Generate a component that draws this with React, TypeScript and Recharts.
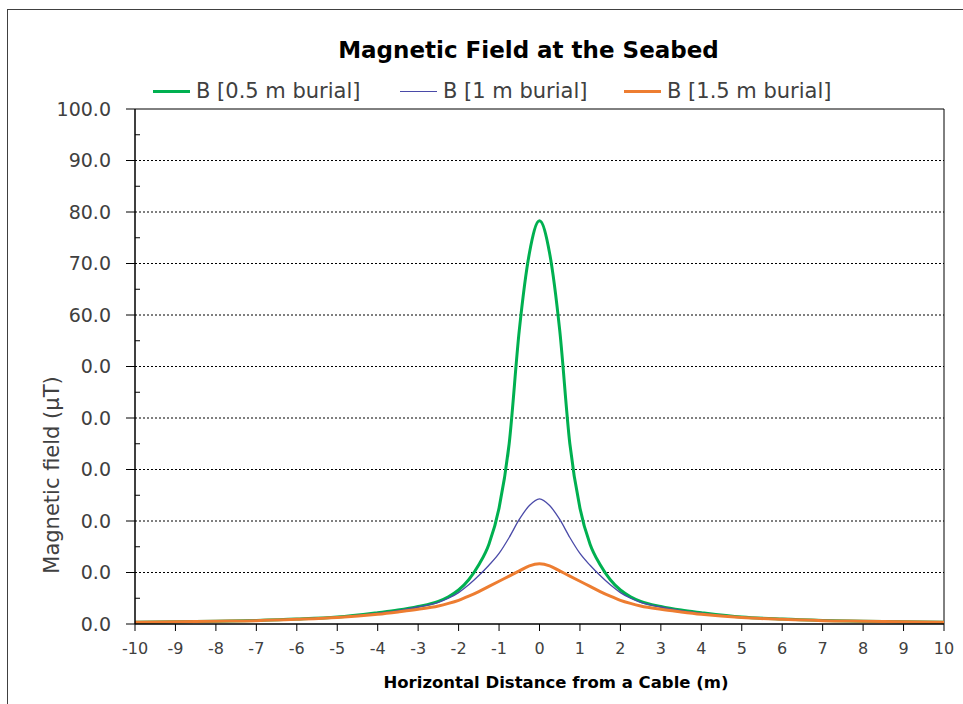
import { LineChart, Line, XAxis, YAxis, ReferenceLine } from "recharts";

// distance from the cable (m)
const X_VALUES = [
  -10, -9, -8, -7, -6, -5, -4, -3.5, -3,
  -2.5, -2.25, -2, -1.75, -1.5, -1.25, -1, -0.75, -0.5, -0.25, 0,
  0.25, 0.5, 0.75, 1, 1.25, 1.5, 1.75, 2, 2.25, 2.5,
  3, 3.5, 4, 5, 6, 7, 8, 9, 10,
];

// magnetic field (uT) for each burial depth
const B_05 = [
  0.35, 0.45, 0.55, 0.7, 0.95, 1.35, 2.2, 2.7, 3.4,
  4.4, 5.3, 6.6, 8.6, 11.5, 15.5, 22.5, 35, 57, 72, 78.3,
  72, 57, 35, 22.5, 15.5, 11.5, 8.6, 6.6, 5.3, 4.4,
  3.4, 2.7, 2.2, 1.35, 0.95, 0.7, 0.55, 0.45, 0.35,
];
const B_10 = [
  0.35, 0.45, 0.55, 0.7, 0.95, 1.3, 2.1, 2.6, 3.3,
  4.2, 5.0, 6.1, 7.6, 9.4, 11.4, 13.7, 16.8, 20.3, 23.0, 24.3,
  23.0, 20.3, 16.8, 13.7, 11.4, 9.4, 7.6, 6.1, 5.0, 4.2,
  3.3, 2.6, 2.1, 1.3, 0.95, 0.7, 0.55, 0.45, 0.35,
];
const B_15 = [
  0.35, 0.45, 0.55, 0.65, 0.9, 1.25, 1.9, 2.35, 2.85,
  3.5, 4.0, 4.6, 5.4, 6.3, 7.3, 8.3, 9.3, 10.3, 11.3, 11.7,
  11.3, 10.3, 9.3, 8.3, 7.3, 6.3, 5.4, 4.6, 4.0, 3.5,
  2.85, 2.35, 1.9, 1.25, 0.9, 0.65, 0.55, 0.45, 0.35,
];

const SERIES_NAMES = ["B [0.5 m burial]", "B [1 m burial]", "B [1.5 m burial]"];
const SERIES_COLORS = ["#00b050", "#4a4aa8", "#ed7d31"];

const X_TICKS = [-10, -9, -8, -7, -6, -5, -4, -3, -2, -1, 0, 1, 2, 3, 4, 5, 6, 7, 8, 9, 10];
const Y_MAJOR = [0, 10, 20, 30, 40, 50, 60, 70, 80, 90, 100];
const Y_MINOR = [5, 15, 25, 35, 45, 55, 65, 75, 85, 95];
const GRID_VALUES = [10, 20, 30, 40, 50, 60, 70, 80, 90];

const data = X_VALUES.map((x, i) => ({
  x,
  b05: B_05[i],
  b10: B_10[i],
  b15: B_15[i],
}));

const FONT = "'DejaVu Sans', sans-serif";
const AXIS_X = 135;

function YTick(props: any) {
  const { y, payload } = props;
  const v = payload.value;
  const major = v % 10 === 0;
  return (
    <g>
      {major ? (
        <line x1={AXIS_X - 9} x2={AXIS_X} y1={y} y2={y} stroke="#000" strokeWidth={1} />
      ) : (
        <line x1={AXIS_X} x2={AXIS_X + 5} y1={y} y2={y} stroke="#000" strokeWidth={1} />
      )}
      {major && (
        <text x={AXIS_X - 24} y={y} dy="0.36em" textAnchor="end" fontSize={19} fill="#404040" fontFamily={FONT}>
          {v.toFixed(1)}
        </text>
      )}
    </g>
  );
}

function XTitle() {
  return (
    <text x={556} y={682} textAnchor="middle" dy="0.35em" fontSize={16.5} fontWeight="bold" fill="#000" fontFamily={FONT}>
      Horizontal Distance from a Cable (m)
    </text>
  );
}

const LEGEND_LEFT = [153, 400, 624];

export default function App() {
  const yTicks = [...Y_MAJOR, ...Y_MINOR].sort((a, b) => a - b);
  return (
    <div style={{ position: "fixed", left: 0, top: 0, width: 963, height: 704, background: "#fff", overflow: "hidden" }}>
      <div
        style={{
          position: "absolute",
          left: 7,
          top: 9,
          width: 2000,
          height: 2000,
          border: "1.5px solid #404040",
        }}
      />
      <div
        style={{
          position: "absolute",
          left: 0,
          width: 1057,
          top: 37,
          textAlign: "center",
          fontFamily: FONT,
          fontWeight: "bold",
          fontSize: 23,
          color: "#000",
        }}
      >
        Magnetic Field at the Seabed
      </div>
      {SERIES_NAMES.map((name, i) => (
        <div
          key={name}
          style={{
            position: "absolute",
            left: LEGEND_LEFT[i],
            top: 79,
            display: "flex",
            alignItems: "center",
            fontFamily: FONT,
            fontSize: 21,
            color: "#404040",
            whiteSpace: "nowrap",
          }}
        >
          <span
            style={{
              display: "inline-block",
              width: 37,
              height: 0,
              borderTop: `${i === 1 ? 1.5 : 3}px solid ${SERIES_COLORS[i]}`,
              marginRight: 6,
            }}
          />
          {name}
        </div>
      ))}
      <div style={{ position: "absolute", left: 0, top: 0 }}>
        <LineChart width={963} height={704} data={data} margin={{ top: 109, right: 19, bottom: 50, left: 55 }}>
          {GRID_VALUES.map((v) => (
            <ReferenceLine key={v} y={v} stroke="#000" strokeWidth={1} strokeDasharray="2 2" />
          ))}
          <ReferenceLine y={100} stroke="#000" strokeWidth={1} />
          <ReferenceLine x={10} stroke="#000" strokeWidth={1} />
          <XAxis
            dataKey="x"
            type="number"
            domain={[-10, 10]}
            ticks={X_TICKS}
            height={30}
            tickSize={7}
            tickMargin={12}
            axisLine={{ stroke: "#000", strokeWidth: 1.5 }}
            tickLine={{ stroke: "#000", strokeWidth: 1 }}
            tick={{ fontSize: 16, fill: "#404040", fontFamily: FONT }}
            label={<XTitle />}
          />
          <YAxis
            type="number"
            domain={[0, 100]}
            ticks={yTicks}
            width={80}
            tickLine={false}
            axisLine={{ stroke: "#000", strokeWidth: 1.5 }}
            tick={<YTick />}
            interval={0}
          />
          <Line type="monotone" dataKey="b05" name={SERIES_NAMES[0]} stroke={SERIES_COLORS[0]} strokeWidth={3} dot={false} isAnimationActive={false} />
          <Line type="monotone" dataKey="b10" name={SERIES_NAMES[1]} stroke={SERIES_COLORS[1]} strokeWidth={1.3} dot={false} isAnimationActive={false} />
          <Line type="monotone" dataKey="b15" name={SERIES_NAMES[2]} stroke={SERIES_COLORS[2]} strokeWidth={3} dot={false} isAnimationActive={false} />
        </LineChart>
      </div>
      {/* axis title sits on a white box that hides part of the tick labels */}
      <svg width={963} height={704} style={{ position: "absolute", left: 0, top: 0, pointerEvents: "none" }}>
        <rect x={28} y={352} width={52.5} height={242} fill="#fff" />
        <text
          x={52}
          y={475}
          transform="rotate(-90 52 475)"
          textAnchor="middle"
          dy="0.35em"
          fontSize={21}
          fill="#404040"
          fontFamily={FONT}
        >
          Magnetic field (µT)
        </text>
      </svg>
    </div>
  );
}
